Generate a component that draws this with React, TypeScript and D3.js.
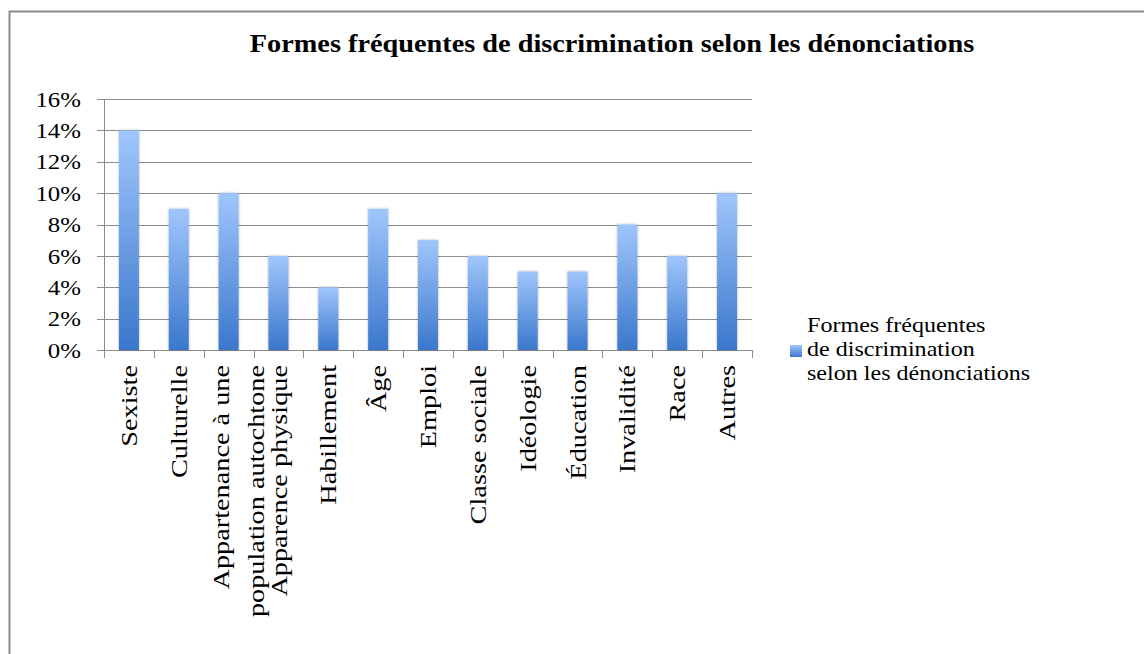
import { useRef, useEffect } from "react";
import * as d3 from "d3";

const categories = [
  "Sexiste",
  "Culturelle",
  "Appartenance à une\npopulation autochtone",
  "Apparence physique",
  "Habillement",
  "Âge",
  "Emploi",
  "Classe sociale",
  "Idéologie",
  "Éducation",
  "Invalidité",
  "Race",
  "Autres",
];
const values = [0.14, 0.09, 0.1, 0.06, 0.04, 0.09, 0.07, 0.06, 0.05, 0.05, 0.08, 0.06, 0.1];
const yTicks = [0, 0.02, 0.04, 0.06, 0.08, 0.1, 0.12, 0.14, 0.16];
const title = "Formes fréquentes de discrimination selon les dénonciations";
const legendLines = ["Formes fréquentes", "de discrimination", "selon les dénonciations"];

const FONT = "'Liberation Serif', 'Times New Roman', serif";

function App() {
  const svgRef = useRef<SVGSVGElement>(null);

  useEffect(() => {
    const WIDTH = 1144;
    const HEIGHT = 654;
    const svg = d3.select(svgRef.current).attr("width", WIDTH).attr("height", HEIGHT);
    svg.selectAll("*").remove();

    const left = 104;
    const right = 752;
    const top = 99;
    const bottom = 350;

    const xScale = d3.scaleBand().domain(categories).range([left, right]);
    const yScale = d3.scaleLinear().domain([0, 0.16]).range([bottom, top]);

    const defs = svg.append("defs");
    const grad = defs
      .append("linearGradient")
      .attr("id", "barGrad")
      .attr("x1", 0)
      .attr("y1", 0)
      .attr("x2", 0)
      .attr("y2", 1);
    grad.append("stop").attr("offset", "0%").attr("stop-color", "#a0c6fc");
    grad.append("stop").attr("offset", "100%").attr("stop-color", "#3a77cc");

    const shadow = defs.append("filter").attr("id", "barShadow").attr("x", "-50%").attr("width", "200%");
    shadow
      .append("feDropShadow")
      .attr("dx", 0)
      .attr("dy", 0)
      .attr("stdDeviation", 1.2)
      .attr("flood-color", "#000")
      .attr("flood-opacity", 0.35);

    // outer frame
    svg
      .append("rect")
      .attr("x", 9.5)
      .attr("y", 11.5)
      .attr("width", 1400)
      .attr("height", 900)
      .attr("fill", "#fff")
      .attr("stroke", "#8a8a8a")
      .attr("stroke-width", 2);

    // title
    svg
      .append("text")
      .attr("transform", `translate(612, 52) scale(1.11, 1)`)
      .attr("text-anchor", "middle")
      .attr("font-family", FONT)
      .attr("font-weight", "bold")
      .attr("font-size", 25.5)
      .text(title);

    // gridlines
    svg
      .append("g")
      .selectAll("line")
      .data(yTicks)
      .join("line")
      .attr("x1", left - 7)
      .attr("x2", right)
      .attr("y1", (d) => Math.round(yScale(d)) + 0.5)
      .attr("y2", (d) => Math.round(yScale(d)) + 0.5)
      .attr("stroke", "#8c8c8c")
      .attr("stroke-width", 1);

    // y axis line
    svg
      .append("line")
      .attr("x1", left + 0.5)
      .attr("x2", left + 0.5)
      .attr("y1", top)
      .attr("y2", bottom + 0.5)
      .attr("stroke", "#8c8c8c");

    // y labels
    svg
      .append("g")
      .selectAll("text")
      .data(yTicks)
      .join("text")
      .attr("transform", (d) => `translate(81, ${yScale(d)}) scale(1.13, 1)`)
      .attr("dy", "0.35em")
      .attr("text-anchor", "end")
      .attr("font-family", FONT)
      .attr("font-size", 22)
      .text((d) => d3.format(".0%")(d));

    // x tick marks at category boundaries
    const boundaries = categories.map((c) => xScale(c) as number).concat([right]);
    svg
      .append("g")
      .selectAll("line")
      .data(boundaries)
      .join("line")
      .attr("x1", (d) => Math.round(d) + 0.5)
      .attr("x2", (d) => Math.round(d) + 0.5)
      .attr("y1", bottom)
      .attr("y2", bottom + 8)
      .attr("stroke", "#8c8c8c");

    // bars
    const barW = 20;
    svg
      .append("g")
      .selectAll("rect")
      .data(values)
      .join("rect")
      .attr("x", (d, i) => (xScale(categories[i]) as number) + xScale.bandwidth() / 2 - barW / 2)
      .attr("y", (d) => yScale(d))
      .attr("width", barW)
      .attr("height", (d) => bottom - yScale(d))
      .attr("fill", "url(#barGrad)")
      .attr("filter", "url(#barShadow)");

    // x labels, rotated
    const xLabels = svg
      .append("g")
      .selectAll("text")
      .data(categories)
      .join("text")
      .attr(
        "transform",
        (d) => `translate(${(xScale(d) as number) + xScale.bandwidth() / 2}, 365) rotate(-90) scale(1.23, 1)`
      )
      .attr("text-anchor", "end")
      .attr("font-family", FONT)
      .attr("font-size", 23);
    xLabels.each(function (d) {
      const lines = d.split("\n");
      const t = d3.select(this);
      if (lines.length === 1) {
        t.append("tspan").attr("x", 0).attr("dy", "0.35em").text(lines[0]);
      } else {
        t.append("tspan").attr("x", 0).attr("y", 0).attr("dy", "0").text(lines[0]);
        t.append("tspan").attr("x", 0).attr("y", 0).attr("dy", "35").text(lines[1]);
      }
    });

    // legend
    svg
      .append("rect")
      .attr("x", 790)
      .attr("y", 345)
      .attr("width", 12)
      .attr("height", 12)
      .attr("fill", "url(#barGrad)");
    svg
      .append("g")
      .selectAll("text")
      .data(legendLines)
      .join("text")
      .attr("transform", (d, i) => `translate(807, ${332 + i * 24}) scale(1.12, 1)`)
      .attr("font-family", FONT)
      .attr("font-size", 21.5)
      .text((d) => d);
  }, []);

  return (
    <div style={{ position: "absolute", left: 0, top: 0 }}>
      <svg ref={svgRef} style={{ display: "block" }} />
    </div>
  );
}

export default App;
